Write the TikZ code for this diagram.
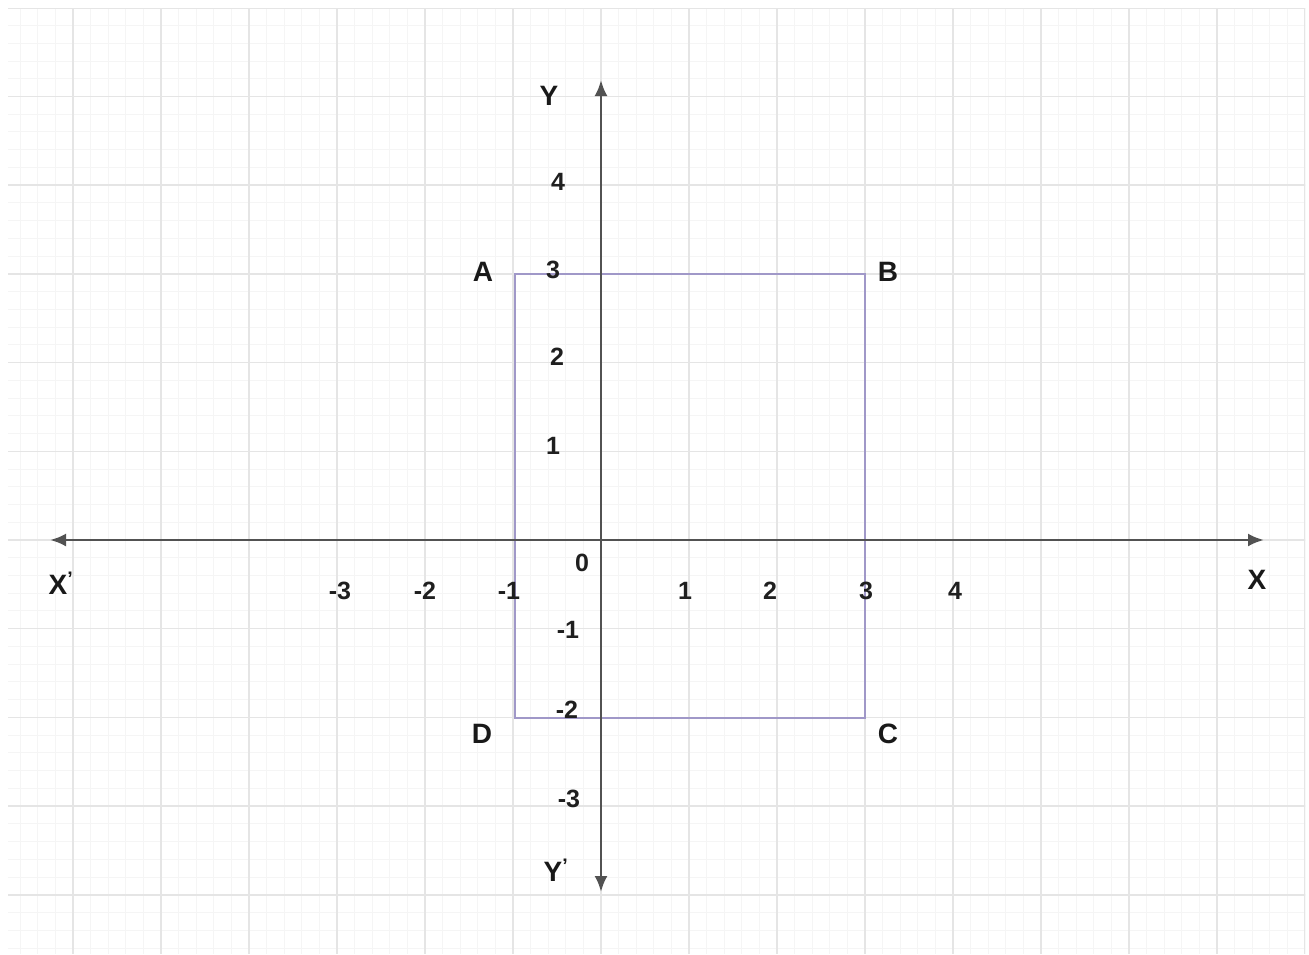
\documentclass[tikz,border=0pt]{standalone}
\usepackage{fontspec}
\setmainfont{Liberation Sans}
\usetikzlibrary{arrows.meta}
\definecolor{rectcol}{RGB}{160,152,200}
\begin{document}
\begin{tikzpicture}[x=1pt,y=-1pt,
  majorgrid/.style={draw=black!10, line width=1.5pt},
  minorgrid/.style={draw=black!4, line width=1pt},
  axisline/.style={draw=black!68, line width=2.8pt, {Latex[length=16pt,width=13pt]}-{Latex[length=16pt,width=13pt]}},
  rectline/.style={draw=rectcol, line width=2pt},
  numlbl/.style={font=\fontsize{25}{25}\selectfont\bfseries, text=black!88, inner sep=0pt},
  ptlbl/.style={font=\fontsize{28}{28}\selectfont\bfseries, text=black!90, inner sep=0pt}]
\useasboundingbox (0,0) rectangle (1309,954);
\fill[white] (0,0) rectangle (1309,954);
% grid
\begin{scope}
\clip (8,8) rectangle (1305,954);
\foreach \i in {-33,...,40} \draw[minorgrid] ({601+17.6*\i},0) -- ({601+17.6*\i},954);
\foreach \j in {-30,...,23} \draw[minorgrid] (0,{540+17.74*\j}) -- (1309,{540+17.74*\j});
\foreach \i in {-6,...,8} \draw[majorgrid] ({601+88*\i},0) -- ({601+88*\i},954);
\foreach \j in {-6,...,4} \draw[majorgrid] (0,{540+88.7*\j}) -- (1309,{540+88.7*\j});
\end{scope}
% rectangle corners
\coordinate (pA) at (515,274);
\coordinate (pB) at (865,274);
\coordinate (pC) at (865,718);
\coordinate (pD) at (515,718);
\draw[rectline] (pA) -- (pB) -- (pC) -- (pD) -- cycle;
% axes
\coordinate (xl) at (50,540);
\coordinate (xr) at (1264,540);
\coordinate (yt) at (601,80);
\coordinate (yb) at (601,892);
\draw[axisline] (xl) -- (xr);
\draw[axisline] (yb) -- (yt);
% axis names
\node[ptlbl] (Y) at (549,96) {Y};
\node[ptlbl] (Yp) at (556,870) {Y\textsuperscript{'}};
\node[ptlbl] (X) at (1257,580) {X};
\node[ptlbl] (Xp) at (61,583) {X\textsuperscript{'}};
% point names
\node[ptlbl] (A) at (483,272) {A};
\node[ptlbl] (B) at (888,272) {B};
\node[ptlbl] (C) at (888,734) {C};
\node[ptlbl] (D) at (482,734) {D};
% y-axis numbers
\node[numlbl] (y4) at (558,182) {4};
\node[numlbl] (y3) at (553,270) {3};
\node[numlbl] (y2) at (557,357) {2};
\node[numlbl] (y1) at (553,446) {1};
\node[numlbl] (o) at (582,563) {0};
\node[numlbl] (ym1) at (568,630) {-1};
\node[numlbl] (ym2) at (567,710) {-2};
\node[numlbl] (ym3) at (569,799) {-3};
% x-axis numbers
\node[numlbl] (xm3) at (340,591) {-3};
\node[numlbl] (xm2) at (425,591) {-2};
\node[numlbl] (xm1) at (509,591) {-1};
\node[numlbl] (x1) at (685,591) {1};
\node[numlbl] (x2) at (770,591) {2};
\node[numlbl] (x3) at (866,591) {3};
\node[numlbl] (x4) at (955,591) {4};
\end{tikzpicture}
\end{document}
